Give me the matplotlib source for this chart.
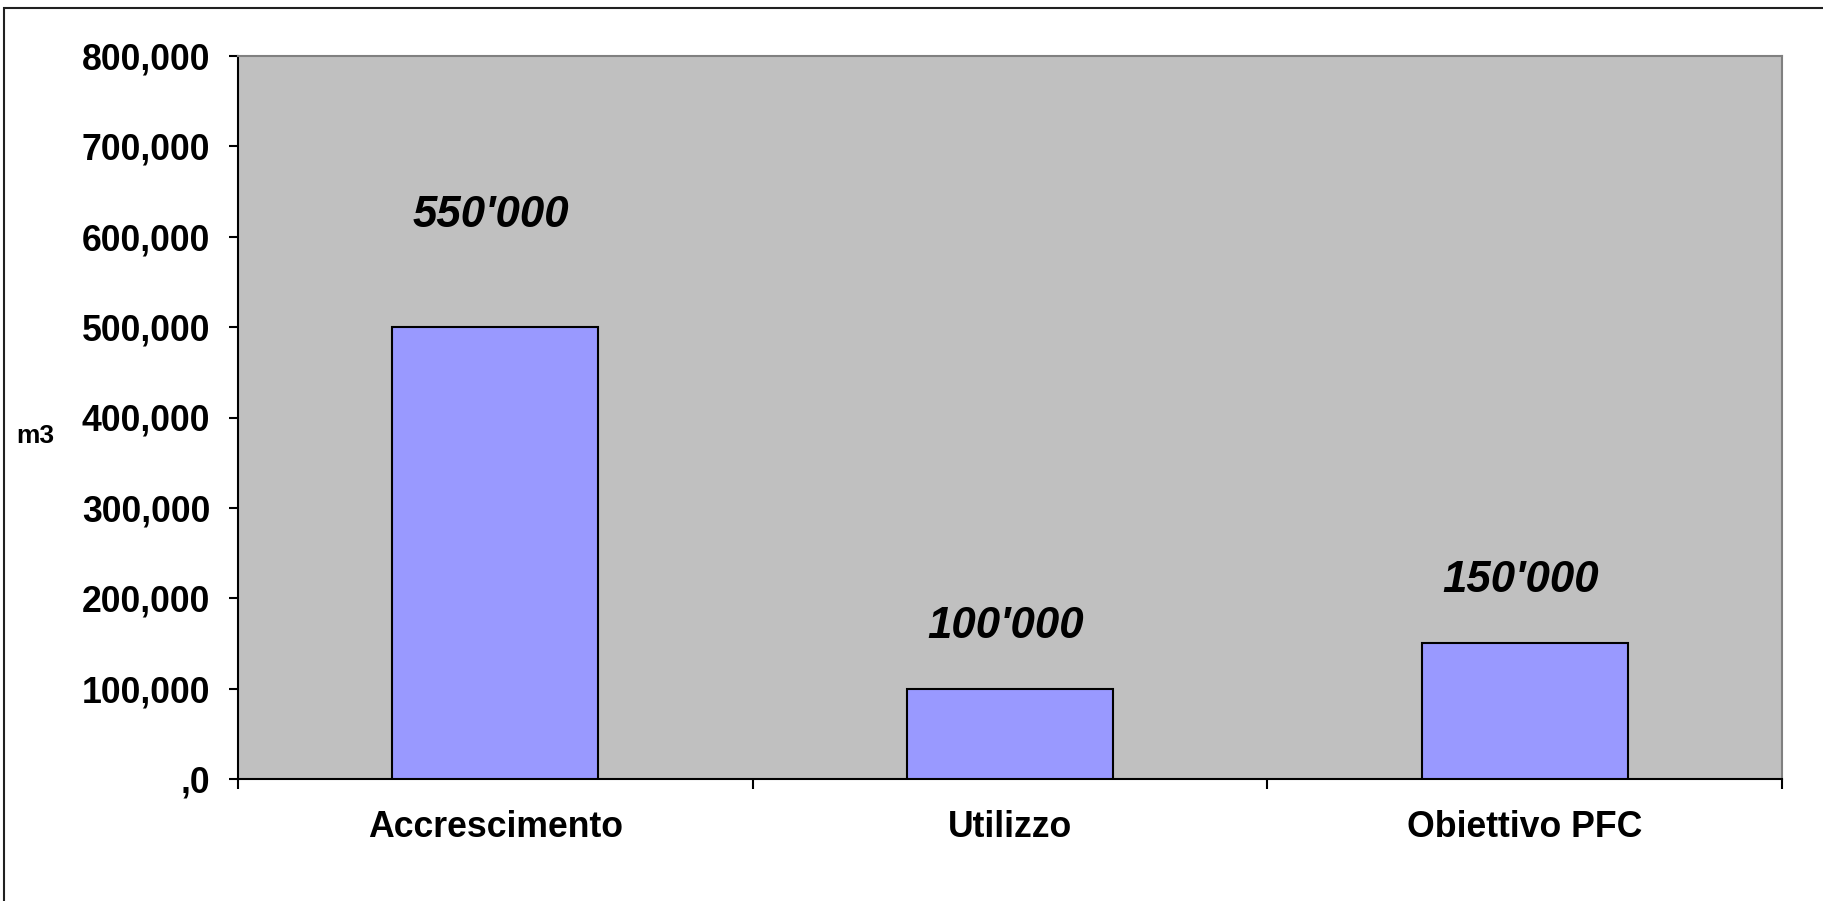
import numpy as np
import matplotlib.pyplot as plt
from matplotlib.patches import Rectangle

plt.rcParams['font.family'] = ['Liberation Sans', 'DejaVu Sans']

categories = ["Accrescimento", "Utilizzo", "Obiettivo PFC"]
values = [500000, 100000, 150000]
bar_labels = ["550'000", "100'000", "150'000"]
yticks = [0, 100000, 200000, 300000, 400000, 500000, 600000, 700000, 800000]
ytick_labels = [",0", "100,000", "200,000", "300,000", "400,000",
                "500,000", "600,000", "700,000", "800,000"]

fig = plt.figure(figsize=(18.24, 9.01), dpi=100)
ax = fig.add_axes([238/1824, 1 - 779/901, (1782 - 238)/1824, (779 - 56)/901])
ax.set_facecolor('#C0C0C0')

x = np.arange(len(categories))
ax.bar(x, values, width=0.4, color='#9999FF', edgecolor='black', linewidth=1.5, zorder=3)

# labels sit above the bars (offsets in pixels -> points)
offsets = [112, 62, 63]
for xi, v, lab, off in zip(x, values, bar_labels, offsets):
    ax.annotate(lab, (xi, v), xytext=(-3, off * 0.72), textcoords='offset points',
                ha='center', va='center', fontsize=31.5, fontweight='bold',
                fontstyle='italic', color='black')

ax.set_xlim(-0.5, 2.5)
ax.set_ylim(0, 800000)
ax.set_yticks(yticks)
ax.set_yticklabels(ytick_labels)
ax.set_xticks(x)
ax.set_xticklabels(categories)
ax.set_xticks([-0.5, 0.5, 1.5, 2.5], minor=True)

ax.tick_params(axis='y', length=6.5, width=1.5, pad=13.5, labelsize=25.7, direction='out')
ax.tick_params(axis='x', which='major', length=0, pad=22, labelsize=25.7)
ax.tick_params(axis='x', which='minor', length=7, width=1.5, direction='out')
for t in ax.get_yticklabels() + ax.get_xticklabels():
    t.set_fontweight('bold')

for s in ['left', 'bottom']:
    ax.spines[s].set_color('black')
    ax.spines[s].set_linewidth(1.5)
for s in ['top', 'right']:
    ax.spines[s].set_color('#808080')
    ax.spines[s].set_linewidth(1.5)

fig.text(35/1824, 1 - 436/901, 'm3', ha='center', va='center',
         fontsize=19, fontweight='bold')

# outer chart frame
fig.patches.append(Rectangle((4/1824, -0.1), 1.2, 1 - 8/901 + 0.1,
                             transform=fig.transFigure, fill=False,
                             edgecolor='#202020', linewidth=1.5))

plt.savefig('out.png', dpi=100)
